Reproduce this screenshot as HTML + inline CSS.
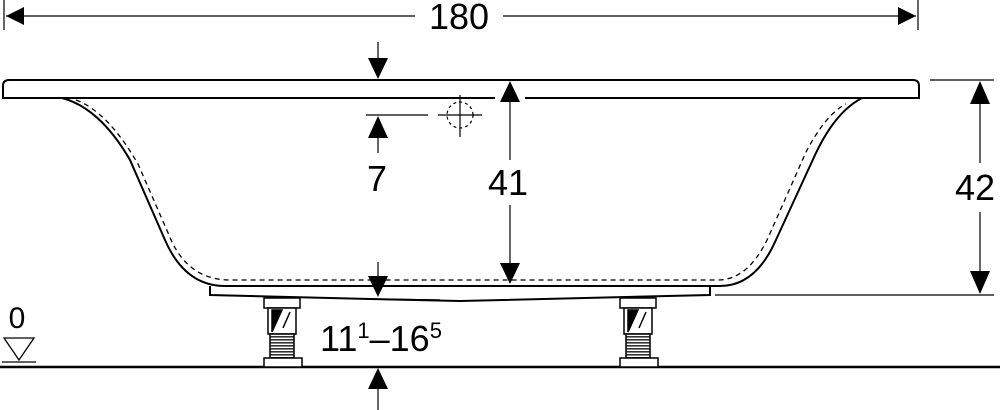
<!DOCTYPE html>
<html><head><style>body{margin:0;background:#fff}svg{display:block}</style></head><body>
<svg width="1000" height="410" viewBox="0 0 1000 410" xmlns="http://www.w3.org/2000/svg" font-family="Liberation Sans, Arial, sans-serif">
<g stroke="#000" fill="none">
<line x1="4" y1="0" x2="4" y2="30" stroke-width="1.2"/>
<line x1="918" y1="0" x2="918" y2="30" stroke-width="1.2"/>
<line x1="6" y1="16" x2="415" y2="16" stroke-width="1.2"/>
<line x1="503" y1="16" x2="916" y2="16" stroke-width="1.2"/>
<!-- rim -->
<path d="M495,98 H3 V86 Q3,80 9,80 H913 Q919,80 919,86 V98 H525" stroke-width="2"/>
<!-- tub outer -->
<path d="M62,98 Q100,108 130,160 L165,240 Q185,286 225,286 H720 Q755,286 775,242 L815,155 Q835,112 862,98" stroke-width="2"/>
<path d="M76,100 Q108,112 138,164 L172,242 Q190,279 228,280 H718 Q748,280 768,238 L806,152 Q826,114 846,104" stroke-width="1.3" stroke-dasharray="5,4"/>
<path d="M210,286 V295 L370,299 L460,301 L710,295 V286" stroke-width="2"/>
<line x1="366" y1="299" x2="440" y2="300" stroke-width="1.5"/>
<line x1="930" y1="80" x2="994" y2="80" stroke-width="1.2"/>
<line x1="715" y1="295" x2="994" y2="295" stroke-width="1.2"/>
<line x1="980" y1="90" x2="980" y2="163" stroke-width="1.2"/>
<line x1="980" y1="212" x2="980" y2="285" stroke-width="1.2"/>
<line x1="378" y1="42" x2="378" y2="70" stroke-width="1.2"/>
<line x1="366" y1="115" x2="428" y2="115" stroke-width="1.2"/>
<line x1="378" y1="125" x2="378" y2="153" stroke-width="1.2"/>
<circle cx="460" cy="115" r="13" stroke-width="1.2" stroke-dasharray="3,3"/>
<line x1="438" y1="115" x2="482" y2="115" stroke-width="1.2"/>
<line x1="460" y1="95" x2="460" y2="137" stroke-width="1.2"/>
<line x1="510" y1="95" x2="510" y2="160" stroke-width="1.2"/>
<line x1="510" y1="205" x2="510" y2="270" stroke-width="1.2"/>
<line x1="378" y1="262" x2="378" y2="285" stroke-width="1.2"/>
<line x1="378" y1="380" x2="378" y2="410" stroke-width="1.2"/>
<line x1="0" y1="367" x2="1000" y2="367" stroke-width="2.5"/>
<path d="M4,338 H34 L19,360 Z" stroke-width="1.3"/>
<line x1="2" y1="362" x2="36" y2="362" stroke-width="1.3"/>
</g>
<g fill="#000">
<path d="M6,16 L24,7 L24,25 Z"/>
<path d="M916,16 L898,7 L898,25 Z"/>
<path d="M980,81 L970,104 L990,104 Z"/>
<path d="M980,294 L970,271 L990,271 Z"/>
<path d="M378,79 L368,58 L388,58 Z"/>
<path d="M378,116 L368,138 L388,138 Z"/>
<path d="M510,81 L500,102 L520,102 Z"/>
<path d="M510,284 L500,263 L520,263 Z"/>
<path d="M378,297 L368,276 L388,276 Z"/>
<path d="M378,368 L368,389 L388,389 Z"/>
</g>
<defs>
<pattern id="th" width="4" height="3" patternUnits="userSpaceOnUse"><rect width="4" height="3" fill="#fff"/><rect width="4" height="1.6" fill="#333"/></pattern>
</defs>
<g stroke="#000" stroke-width="1.5" fill="#fff">
<g>
<rect x="264" y="298" width="36" height="10"/>
<rect x="268" y="308" width="28" height="26"/>
<path d="M272,310 L282,310 L272,332 Z" fill="#000"/>
<path d="M290,312 L283,328"/>
<rect x="270" y="334" width="24" height="24" fill="url(#th)"/>
<rect x="264" y="358" width="38" height="9"/>
</g>
<g transform="translate(356,0)">
<rect x="264" y="298" width="36" height="10"/>
<rect x="268" y="308" width="28" height="26"/>
<path d="M272,310 L282,310 L272,332 Z" fill="#000"/>
<path d="M290,312 L283,328"/>
<rect x="270" y="334" width="24" height="24" fill="url(#th)"/>
<rect x="264" y="358" width="38" height="9"/>
</g>
</g>
<g font-size="36" fill="#000">
<text x="459" y="29" text-anchor="middle">180</text>
<text x="377" y="191" text-anchor="middle">7</text>
<text x="508" y="195" text-anchor="middle">41</text>
<text x="975" y="200" text-anchor="middle">42</text>
<text x="17" y="328" text-anchor="middle" font-size="30">0</text>
<text x="320" y="351">11<tspan font-size="22" dy="-13">1</tspan><tspan dy="13">–16</tspan><tspan font-size="22" dy="-13">5</tspan></text>
</g>
</svg>
</body></html>
